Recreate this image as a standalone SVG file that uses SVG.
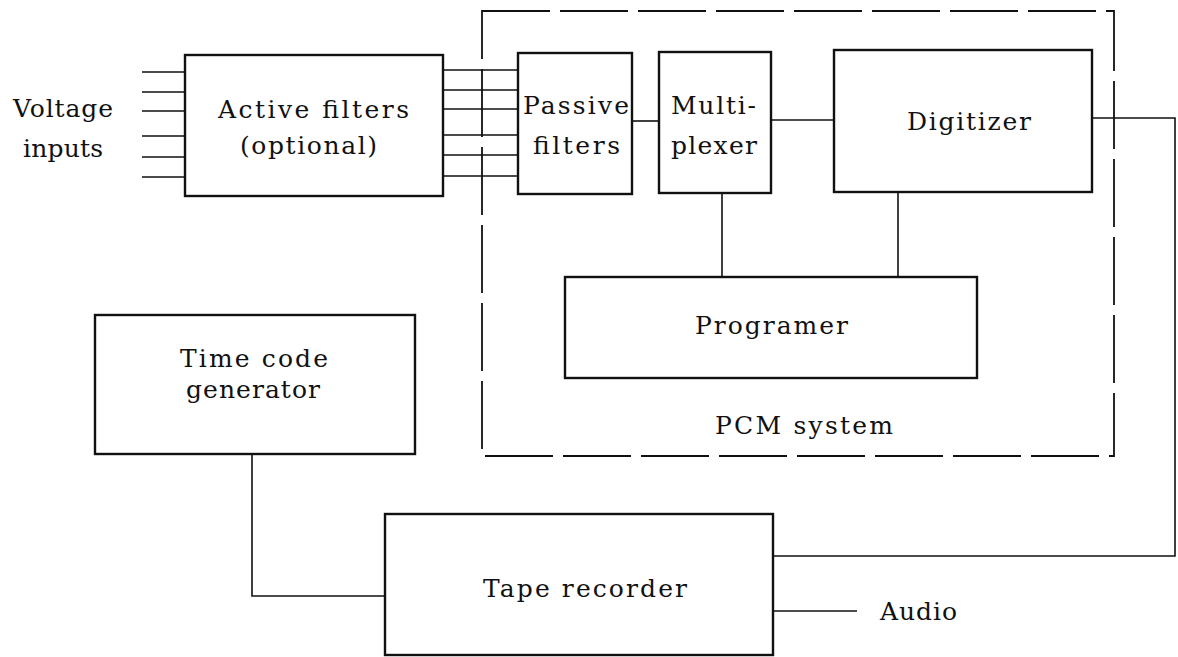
<svg xmlns="http://www.w3.org/2000/svg" width="1178" height="657" viewBox="0 0 1178 657">
<style>
.box{fill:#fff;stroke:#111;stroke-width:2.4}
.ln{fill:none;stroke:#111;stroke-width:1.6}
.dash{fill:none;stroke:#111;stroke-width:1.8;stroke-dasharray:68 10}
.t{font-family:"DejaVu Serif","Liberation Serif",serif;font-size:25px;fill:#111}
</style>
<rect width="1178" height="657" fill="#fff"/>
<g id="pcm-system">
<rect class="dash" x="482" y="11" width="632" height="445"/>
<text class="t" x="715" y="434" textLength="178" lengthAdjust="spacing">PCM  system</text>
</g>
<g id="connectors">
<path class="ln" d="M142 72H185M142 92H185M142 111H185M142 136H185M142 157H185M142 177H185"/>
<path class="ln" d="M443 70H518M443 90H518M443 109H518M443 135H518M443 155H518M443 176H518"/>
<path class="ln" d="M632 121H659"/>
<path class="ln" d="M771 120H834"/>
<path class="ln" d="M722 193V277"/>
<path class="ln" d="M898 192V277"/>
<path class="ln" d="M1092 118H1175V556H773"/>
<path class="ln" d="M252 454V596H385"/>
<path class="ln" d="M773 611H857"/>
</g>
<g id="voltage-inputs">
<text class="t" x="13" y="117" textLength="100" lengthAdjust="spacing">Voltage</text>
<text class="t" x="23" y="157" textLength="80" lengthAdjust="spacing">inputs</text>
</g>
<g id="active-filters">
<rect class="box" x="185" y="55" width="258" height="141"/>
<text class="t" x="218" y="118" textLength="191" lengthAdjust="spacing">Active filters</text>
<text class="t" x="240" y="154" textLength="137" lengthAdjust="spacing">(optional)</text>
</g>
<g id="passive-filters">
<rect class="box" x="518" y="53" width="114" height="141"/>
<text class="t" x="523" y="114" textLength="106" lengthAdjust="spacing">Passive</text>
<text class="t" x="533" y="154" textLength="87" lengthAdjust="spacing">filters</text>
</g>
<g id="multiplexer">
<rect class="box" x="659" y="52" width="112" height="141"/>
<text class="t" x="671" y="114" textLength="85" lengthAdjust="spacing">Multi-</text>
<text class="t" x="671" y="154" textLength="86" lengthAdjust="spacing">plexer</text>
</g>
<g id="digitizer">
<rect class="box" x="834" y="50" width="258" height="142"/>
<text class="t" x="907" y="130" textLength="124" lengthAdjust="spacing">Digitizer</text>
</g>
<g id="programer">
<rect class="box" x="565" y="277" width="412" height="101"/>
<text class="t" x="695" y="334" textLength="153" lengthAdjust="spacing">Programer</text>
</g>
<g id="time-code-generator">
<rect class="box" x="95" y="315" width="320" height="139"/>
<text class="t" x="180" y="367" textLength="148" lengthAdjust="spacing">Time  code</text>
<text class="t" x="186" y="398" textLength="134" lengthAdjust="spacing">generator</text>
</g>
<g id="tape-recorder">
<rect class="box" x="385" y="514" width="388" height="141"/>
<text class="t" x="483" y="597" textLength="204" lengthAdjust="spacing">Tape  recorder</text>
</g>
<g id="audio">
<text class="t" x="880" y="620" textLength="77" lengthAdjust="spacing">Audio</text>
</g>
</svg>
